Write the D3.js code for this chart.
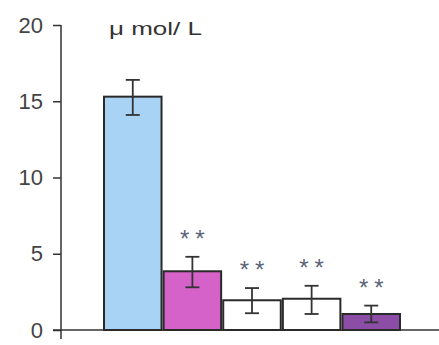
<!DOCTYPE html>
<html>
<head>
<meta charset="utf-8">
<script src="https://cdn.jsdelivr.net/npm/d3@7"></script>
<style>
  body { margin: 0; background: #fff; }
  text { font-family: "Liberation Sans", Arial, sans-serif; }
</style>
</head>
<body>
<script>
const categories = ['A', 'B', 'C', 'D', 'E']
const values = [15.3, 3.85, 1.95, 2.05, 1.05]
const errHigh = [16.4, 4.8, 2.75, 2.9, 1.6]
const errLow = [14.1, 2.8, 1.1, 1.05, 0.5]
const stars = ['', '**', '**', '**', '**']
const colors = ['#a9d3f4', '#d462c9', '#ffffff', '#ffffff', '#8c4da6']
const yTicks = [0, 5, 10, 15, 20]

const width = 439
const height = 345

const svg = d3.select('body')
  .append('svg')
  .attr('width', width)
  .attr('height', height)

const yScale = d3.scaleLinear()
  .domain([0, 20])
  .range([330, 25])

const xScale = d3.scaleBand()
  .domain(categories)
  .range([104, 400])
  .paddingInner(0.035)

// y axis
const yAxis = d3.axisLeft(yScale)
  .tickValues(yTicks)
  .tickSize(8)
  .tickPadding(10)

const gy = svg.append('g')
  .attr('transform', 'translate(61,0)')
  .call(yAxis)

gy.select('.domain').remove()
gy.selectAll('line').attr('stroke', '#333').attr('stroke-width', 1.5)
gy.selectAll('text')
  .attr('font-size', 22)
  .attr('fill', '#444')

svg.append('line')
  .attr('x1', 61).attr('x2', 61)
  .attr('y1', yScale(20)).attr('y2', 339)
  .attr('stroke', '#333').attr('stroke-width', 1.5)

// x axis baseline
svg.append('line')
  .attr('x1', 53).attr('x2', width)
  .attr('y1', yScale(0)).attr('y2', yScale(0))
  .attr('stroke', '#333').attr('stroke-width', 1.5)

// bars
svg.append('g')
  .selectAll('rect')
  .data(categories)
  .enter()
  .append('rect')
  .attr('x', d => xScale(d))
  .attr('y', (d, i) => yScale(values[i]))
  .attr('width', xScale.bandwidth())
  .attr('height', (d, i) => yScale(0) - yScale(values[i]))
  .attr('fill', (d, i) => colors[i])
  .attr('stroke', '#2a2a2a')
  .attr('stroke-width', 2)

// error bars
const err = svg.append('g')
  .selectAll('g')
  .data(categories)
  .enter()
  .append('g')
  .attr('transform', d => `translate(${xScale(d) + xScale.bandwidth() / 2},0)`)
  .attr('stroke', '#333')
  .attr('stroke-width', 1.8)

err.append('line')
  .attr('y1', (d, i) => yScale(errHigh[i]))
  .attr('y2', (d, i) => yScale(errLow[i]))
err.append('line')
  .attr('x1', -7).attr('x2', 7)
  .attr('y1', (d, i) => yScale(errHigh[i]))
  .attr('y2', (d, i) => yScale(errHigh[i]))
err.append('line')
  .attr('x1', -7).attr('x2', 7)
  .attr('y1', (d, i) => yScale(errLow[i]))
  .attr('y2', (d, i) => yScale(errLow[i]))

// significance stars
svg.append('g')
  .selectAll('text')
  .data(categories)
  .enter()
  .append('text')
  .attr('x', d => xScale(d) + xScale.bandwidth() / 2 + 3)
  .attr('y', (d, i) => yScale(errHigh[i]) - 10)
  .attr('text-anchor', 'middle')
  .attr('font-size', 24)
  .attr('letter-spacing', 6)
  .attr('fill', '#5a6478')
  .text((d, i) => stars[i])

// unit label
svg.append('text')
  .attr('x', 109)
  .attr('y', 35)
  .attr('font-size', 18)
  .attr('textLength', 93)
  .attr('lengthAdjust', 'spacingAndGlyphs')
  .attr('fill', '#333')
  .text('μ mol/ L')
</script>
</body>
</html>
